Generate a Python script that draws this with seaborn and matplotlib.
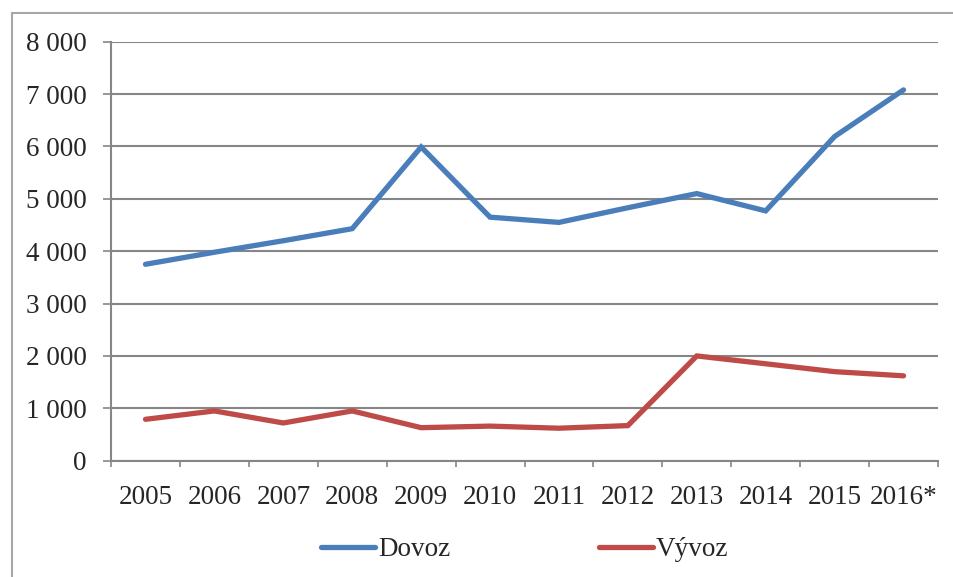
import pandas as pd
import matplotlib
matplotlib.use('Agg')
import matplotlib.pyplot as plt
import seaborn as sns
from matplotlib.patches import Rectangle
from matplotlib.ticker import FuncFormatter, FixedLocator

years = ['2005', '2006', '2007', '2008', '2009', '2010',
         '2011', '2012', '2013', '2014', '2015', '2016*']
dovoz = [3750, 3980, 4200, 4430, 5990, 4650, 4550, 4830, 5100, 4770, 6190, 7080]
vyvoz = [790, 950, 720, 950, 630, 660, 620, 670, 2000, 1850, 1700, 1620]
series_names = ['Dovoz', 'Vývoz']
y_ticks = [0, 1000, 2000, 3000, 4000, 5000, 6000, 7000, 8000]

sns.set_style('white')
plt.rcParams['font.family'] = ['Liberation Serif', 'DejaVu Serif']

df = pd.DataFrame({
    'pos': list(range(len(years))) * 2,
    'value': dovoz + vyvoz,
    'series': [series_names[0]] * len(years) + [series_names[1]] * len(years),
})

grid_col = '#868686'
fs = 19.5

fig = plt.figure(figsize=(9.54, 5.77), dpi=100)
ax = fig.add_axes([0.1164, 0.2016, 0.9832 - 0.1164, 0.9277 - 0.2016])

# outer chart frame
fig.patches.append(Rectangle((12 / 954, -0.05), 1.2, 1 - 13 / 577 + 0.05,
                             transform=fig.transFigure, fill=False,
                             edgecolor='#a6a6a6', linewidth=1.5, zorder=0))

sns.lineplot(data=df, x='pos', y='value', hue='series',
             palette=['#4A7EBB', '#BE4B48'], linewidth=3.8,
             solid_capstyle='round', solid_joinstyle='miter', ax=ax)

ax.set_xlim(-0.5, len(years) - 0.5)
ax.set_ylim(0, 8000)
ax.set_yticks(y_ticks)
ax.yaxis.set_major_formatter(FuncFormatter(lambda v, p: f'{int(v):,}'.replace(',', ' ')))
ax.grid(axis='y', color=grid_col, linewidth=1.5)
ax.set_axisbelow(True)

ax.xaxis.set_major_locator(FixedLocator([i - 0.5 for i in range(len(years) + 1)]))
ax.xaxis.set_minor_locator(FixedLocator(list(range(len(years)))))
ax.set_xticklabels([], minor=False)
ax.set_xticklabels(years, minor=True)
ax.tick_params(axis='x', which='major', direction='out', length=4.5,
               width=1.2, color=grid_col, bottom=True)
ax.tick_params(axis='x', which='minor', length=0, pad=17.5, labelsize=fs)
ax.tick_params(axis='y', direction='out', length=5.5, width=1.2,
               color=grid_col, left=True, pad=12, labelsize=fs)

for side in ['top', 'right']:
    ax.spines[side].set_visible(False)
for side in ['left', 'bottom']:
    ax.spines[side].set_color(grid_col)
    ax.spines[side].set_linewidth(1.5)

ax.set_xlabel('')
ax.set_ylabel('')

handles, labels = ax.get_legend_handles_labels()
ax.legend(handles, labels, loc='center', bbox_to_anchor=(0.550, 0.047),
          bbox_transform=fig.transFigure, ncol=2, frameon=False,
          fontsize=fs, handlelength=2.0, handletextpad=0.1, columnspacing=5.5)

fig.savefig('out.png', dpi=100)
